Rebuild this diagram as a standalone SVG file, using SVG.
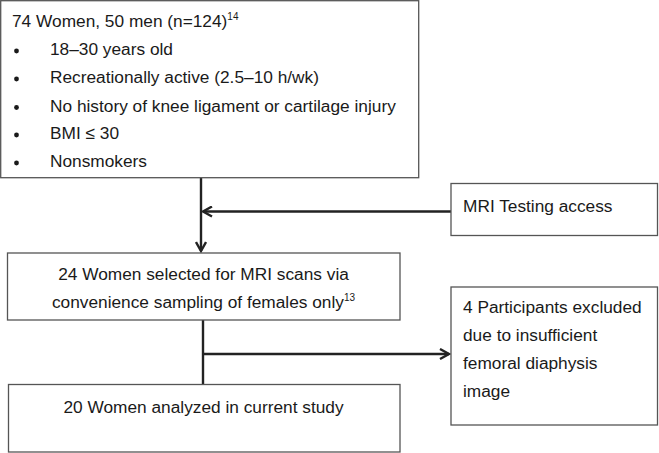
<svg xmlns="http://www.w3.org/2000/svg" width="659" height="453" viewBox="0 0 659 453">
<style>
.box{fill:#fff;stroke:#555;stroke-width:1.3}
.t{font-family:"Liberation Sans",Arial,sans-serif;font-size:17.3px;fill:#1a1a1a}
.s{font-size:10px}
.c{text-anchor:middle}
.ln{stroke:#222;stroke-width:2.4;fill:none}
.b{fill:#1a1a1a}
</style>
<defs>
<marker id="ah" markerWidth="12" markerHeight="12" refX="10" refY="6" orient="auto" markerUnits="userSpaceOnUse">
<path d="M1,1 L10,6 L1,11" fill="none" stroke="#222" stroke-width="2.4"/>
</marker>
</defs>
<rect width="659" height="453" fill="#fff"/>
<g id="connectors">
<line class="ln" x1="201" y1="178" x2="201" y2="251" marker-end="url(#ah)"/>
<line class="ln" x1="451" y1="211.5" x2="203" y2="211.5" marker-end="url(#ah)"/>
<line class="ln" x1="203" y1="320" x2="203" y2="384"/>
<line class="ln" x1="203" y1="354" x2="449" y2="354" marker-end="url(#ah)"/>
</g>
<g id="n1">
<rect class="box" x="0.7" y="0.7" width="418" height="177"/>
<text class="t" x="12" y="27">74 Women, 50 men (n=124)<tspan class="s" dy="-7">14</tspan></text>
<circle class="b" cx="16.5" cy="51" r="2.4"/><text class="t" x="50" y="55">18–30 years old</text>
<circle class="b" cx="16.5" cy="79" r="2.4"/><text class="t" x="50" y="83">Recreationally active (2.5–10 h/wk)</text>
<circle class="b" cx="16.5" cy="107.5" r="2.4"/><text class="t" x="50" y="111.5">No history of knee ligament or cartilage injury</text>
<circle class="b" cx="16.5" cy="135" r="2.4"/><text class="t" x="50" y="139">BMI ≤ 30</text>
<circle class="b" cx="16.5" cy="163" r="2.4"/><text class="t" x="50" y="167">Nonsmokers</text>
</g>
<g id="n2">
<rect class="box" x="451" y="183.5" width="206.5" height="52"/>
<text class="t" x="463" y="212">MRI Testing access</text>
</g>
<g id="n3">
<rect class="box" x="7.5" y="253" width="392.5" height="67"/>
<text class="t c" x="203.5" y="280">24 Women selected for MRI scans via</text>
<text class="t c" x="203.5" y="308">convenience sampling of females only<tspan class="s" dy="-7">13</tspan></text>
</g>
<g id="n4">
<rect class="box" x="451" y="287" width="206.5" height="138"/>
<text class="t" x="463" y="312.5">4 Participants excluded</text>
<text class="t" x="463" y="340.5">due to insufficient</text>
<text class="t" x="463" y="368.5">femoral diaphysis</text>
<text class="t" x="463" y="397">image</text>
</g>
<g id="n5">
<rect class="box" x="8.5" y="384.5" width="391.5" height="67.5"/>
<text class="t c" x="203.5" y="413">20 Women analyzed in current study</text>
</g>
</svg>
